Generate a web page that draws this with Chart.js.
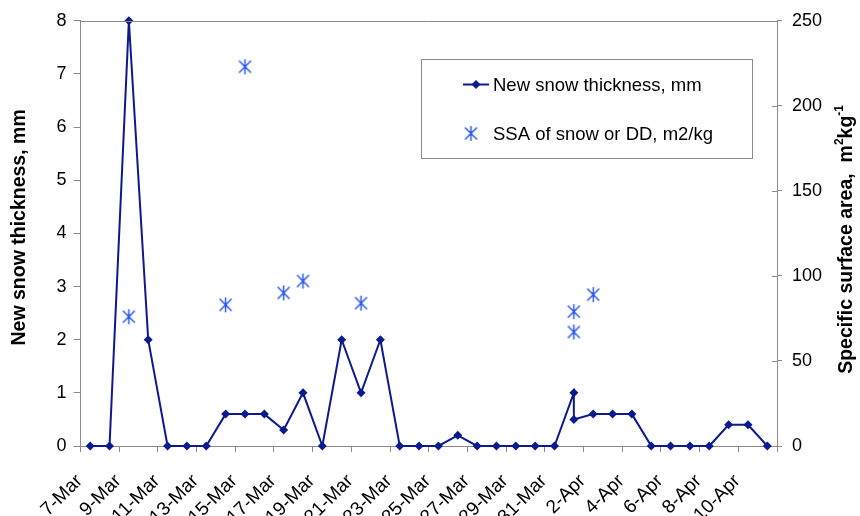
<!DOCTYPE html>
<html>
<head>
<meta charset="utf-8">
<script src="https://cdn.jsdelivr.net/npm/chart.js@4.4.1/dist/chart.umd.min.js"></script>
<style>
  html, body { margin: 0; padding: 0; background: #fff; }
  #wrap { width: 860px; height: 516px; position: relative; }
</style>
</head>
<body>
<div id="wrap"><canvas id="c" width="860" height="516"></canvas></div>
<script>
// Daily slots along the x axis (one slot per calendar day)
const days = ['7-Mar','8-Mar','9-Mar','10-Mar','11-Mar','12-Mar','13-Mar','14-Mar','15-Mar',
  '16-Mar','17-Mar','18-Mar','19-Mar','20-Mar','21-Mar','22-Mar','23-Mar','24-Mar','25-Mar',
  '26-Mar','27-Mar','28-Mar','29-Mar','30-Mar','31-Mar','1-Apr','2-Apr','3-Apr','4-Apr',
  '5-Apr','6-Apr','7-Apr','8-Apr','9-Apr','10-Apr','11-Apr'];

// New snow thickness, mm (two readings on 1-Apr)
const snowDates = ['7-Mar','8-Mar','9-Mar','10-Mar','11-Mar','12-Mar','13-Mar','14-Mar','15-Mar',
  '16-Mar','17-Mar','18-Mar','19-Mar','20-Mar','21-Mar','22-Mar','23-Mar','24-Mar','25-Mar',
  '26-Mar','27-Mar','28-Mar','29-Mar','30-Mar','31-Mar','1-Apr','1-Apr','2-Apr','3-Apr','4-Apr',
  '5-Apr','6-Apr','7-Apr','8-Apr','9-Apr','10-Apr','11-Apr'];
const snowMm = [0, 0, 8, 2, 0, 0, 0, 0.6, 0.6,
  0.6, 0.3, 1, 0, 2, 1, 2, 0, 0, 0,
  0.2, 0, 0, 0, 0, 0, 1, 0.5, 0.6, 0.6, 0.6,
  0, 0, 0, 0, 0.4, 0.4, 0];

// Specific surface area of snow or DD, m2/kg
const ssaDates = ['9-Mar','14-Mar','15-Mar','17-Mar','18-Mar','21-Mar','1-Apr','1-Apr','2-Apr'];
const ssaM2kg = [76, 83, 223, 90, 97, 84, 79, 67, 89];

// Axis labels and legend text
const leftTitle = 'New snow thickness, mm';
const rightTitleParts = [['Specific surface area,  m', false], ['2', true], ['kg', false], ['-1', true]];
const seriesNames = ['New snow thickness, mm', 'SSA of snow or DD, m2/kg'];

const NAVY = '#0b1b8f';
const STAR = '#1f4ff0';
const AXIS = '#8a8a8a';
const FONT = "'Liberation Sans', Arial, sans-serif";

const slotCenter = d => days.indexOf(d) + 0.5;
const snowPoints = snowDates.map((d, i) => ({ x: slotCenter(d), y: snowMm[i] }));
const ssaPoints = ssaDates.map((d, i) => ({ x: slotCenter(d), y: ssaM2kg[i] }));

// Asterisk marker: an X crossed by a vertical stroke
function asterisk(color) {
  const s = 17, m = s / 2;
  const cv = document.createElement('canvas');
  cv.width = s; cv.height = s;
  const g = cv.getContext('2d');
  g.strokeStyle = color; g.lineWidth = 1.4; g.lineCap = 'butt';
  g.beginPath();
  g.moveTo(m, m - 7.5); g.lineTo(m, m + 7.5);
  g.moveTo(m - 6, m - 6); g.lineTo(m + 6, m + 6);
  g.moveTo(m + 6, m - 6); g.lineTo(m - 6, m + 6);
  g.stroke();
  return cv;
}
const starImg = asterisk(STAR);

// Plot frame: top border and inner half of the right-axis ticks
const framePlugin = {
  id: 'frame',
  afterDatasetsDraw(chart) {
    const { ctx, chartArea: a, scales } = chart;
    ctx.save();
    ctx.strokeStyle = AXIS; ctx.lineWidth = 1;
    ctx.beginPath();
    ctx.moveTo(a.left, Math.round(a.top) + 0.5);
    ctx.lineTo(a.right, Math.round(a.top) + 0.5);
    const y2 = scales.y2;
    y2.ticks.forEach(t => {
      const py = Math.round(y2.getPixelForValue(t.value)) + 0.5;
      ctx.moveTo(a.right - 5, py); ctx.lineTo(a.right, py);
    });
    ctx.stroke();
    ctx.restore();
  }
};

// Rotated axis titles (right one carries superscripts)
const titlePlugin = {
  id: 'titles',
  afterDraw(chart) {
    const { ctx, chartArea: a } = chart;
    const mid = (a.top + a.bottom) / 2;
    ctx.save();
    ctx.fillStyle = '#000';
    ctx.textBaseline = 'middle';
    // left
    ctx.save();
    ctx.translate(20, mid - 6);
    ctx.rotate(-Math.PI / 2);
    ctx.font = `bold 19.5px ${FONT}`;
    ctx.textAlign = 'center';
    ctx.fillText(leftTitle, 0, 0);
    ctx.restore();
    // right
    ctx.save();
    ctx.translate(847, mid + 6);
    ctx.rotate(-Math.PI / 2);
    ctx.textAlign = 'left';
    const big = `bold 19.5px ${FONT}`, small = `bold 12px ${FONT}`;
    let total = 0;
    rightTitleParts.forEach(([s, sup]) => { ctx.font = sup ? small : big; total += ctx.measureText(s).width; });
    let x = -total / 2;
    rightTitleParts.forEach(([s, sup]) => {
      ctx.font = sup ? small : big;
      ctx.fillText(s, x, sup ? -7 : 0);
      x += ctx.measureText(s).width;
    });
    ctx.restore();
    ctx.restore();
  }
};

// Boxed legend inside the plot area
const legendPlugin = {
  id: 'boxLegend',
  afterDraw(chart) {
    const { ctx } = chart;
    const bx = 421.5, by = 59.5, bw = 331, bh = 99;
    ctx.save();
    ctx.fillStyle = '#fff';
    ctx.fillRect(bx, by, bw, bh);
    ctx.strokeStyle = AXIS; ctx.lineWidth = 1;
    ctx.strokeRect(bx, by, bw, bh);
    // line + diamond sample
    const y1 = 84.5;
    ctx.strokeStyle = NAVY; ctx.lineWidth = 2;
    ctx.beginPath(); ctx.moveTo(463, y1); ctx.lineTo(489, y1); ctx.stroke();
    ctx.fillStyle = NAVY;
    ctx.beginPath();
    ctx.moveTo(476, y1 - 4.5); ctx.lineTo(480.5, y1); ctx.lineTo(476, y1 + 4.5); ctx.lineTo(471.5, y1);
    ctx.closePath(); ctx.fill();
    // asterisk sample
    const y2 = 133.5;
    ctx.drawImage(starImg, 471 - starImg.width / 2, y2 - starImg.height / 2);
    ctx.fillStyle = '#000';
    ctx.font = `18.5px ${FONT}`;
    ctx.textAlign = 'left'; ctx.textBaseline = 'middle';
    ctx.fillText(seriesNames[0], 493, y1 + 1);
    ctx.fillText(seriesNames[1], 493, y2 + 1);
    ctx.restore();
  }
};

new Chart(document.getElementById('c'), {
  type: 'line',
  data: {
    datasets: [
      {
        label: seriesNames[0],
        data: snowPoints,
        yAxisID: 'y',
        borderColor: NAVY,
        backgroundColor: NAVY,
        borderWidth: 2,
        tension: 0,
        pointStyle: 'rectRot',
        pointRadius: 4.5,
        pointBorderWidth: 0,
        clip: false,
        order: 2
      },
      {
        label: seriesNames[1],
        data: ssaPoints,
        yAxisID: 'y2',
        showLine: false,
        borderColor: STAR,
        backgroundColor: STAR,
        pointStyle: starImg,
        pointRadius: 7,
        clip: false,
        order: 1
      }
    ]
  },
  options: {
    responsive: false,
    animation: false,
    layout: { padding: { top: 20, left: 0, right: 0, bottom: 0 } },
    plugins: { legend: { display: false }, tooltip: { enabled: false } },
    scales: {
      x: {
        type: 'linear',
        min: 0,
        max: days.length,
        afterFit: s => { s.height = 70; },
        ticks: {
          stepSize: 2,
          autoSkip: false,
          minRotation: 45,
          maxRotation: 45,
          color: '#000',
          font: { family: FONT, size: 19 },
          padding: 18,
          labelOffset: -1,
          callback: v => days[v] !== undefined ? days[v] : ''
        },
        grid: { drawOnChartArea: false, color: AXIS, tickLength: 6 },
        border: { color: AXIS }
      },
      y: {
        position: 'left',
        min: 0,
        max: 8,
        afterFit: s => { s.width = 80.5; },
        ticks: { stepSize: 1, color: '#000', font: { family: FONT, size: 18 }, padding: 7 },
        grid: { drawOnChartArea: false, color: AXIS, tickLength: 7 },
        border: { color: AXIS }
      },
      y2: {
        position: 'right',
        min: 0,
        max: 250,
        afterFit: s => { s.width = 83; },
        ticks: { stepSize: 50, color: '#000', font: { family: FONT, size: 18 }, padding: 10 },
        grid: { drawOnChartArea: false, color: AXIS, tickLength: 5 },
        border: { color: AXIS }
      }
    }
  },
  plugins: [framePlugin, titlePlugin, legendPlugin]
});
</script>
</body>
</html>
